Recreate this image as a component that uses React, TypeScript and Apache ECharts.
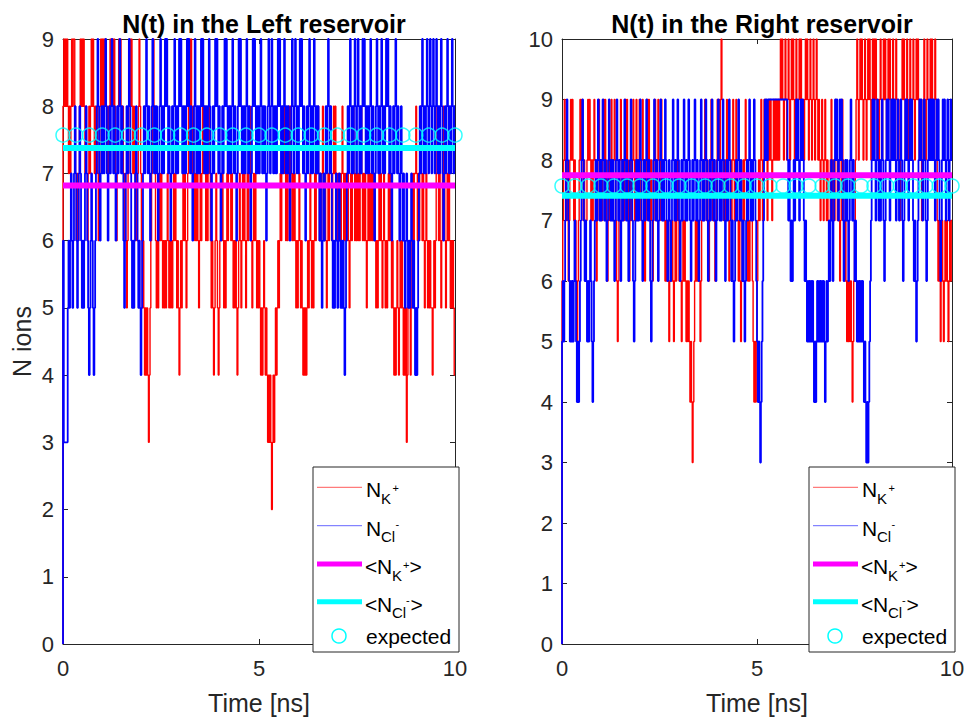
import React, { useEffect, useRef } from 'react';
import * as echarts from 'echarts';

// sample step (ns)
const DT = 0.02;

// Left reservoir, K+ ions (one row = 0.5 ns)
const LEFT_K = [
  0,8,9,8,9,8,9,8,7,8,7,8,9,8,9,9,8,7,6,7,6,7,8,9,8,
  9,8,9,8,7,8,7,6,7,8,7,8,9,8,9,8,7,8,7,8,7,6,7,8,9,
  8,9,8,9,8,9,8,7,8,7,8,9,8,9,9,8,9,8,7,6,7,8,9,8,9,
  8,7,8,7,6,7,6,5,6,7,8,9,8,9,8,7,8,7,6,7,6,7,8,9,8,
  7,6,5,6,5,4,5,4,5,4,3,4,5,6,7,8,9,8,7,6,5,6,5,6,7,
  6,7,6,5,6,5,6,5,6,7,6,5,6,5,6,5,6,7,6,7,6,5,6,5,4,
  5,6,5,6,7,6,7,6,5,6,7,8,9,8,9,8,7,8,7,6,7,6,7,6,5,
  6,7,6,7,8,7,8,7,6,7,6,7,8,7,6,5,6,5,4,5,6,7,6,5,4,
  5,6,7,6,7,6,5,6,5,6,7,6,7,8,7,6,7,6,5,6,5,6,5,4,5,
  6,7,6,5,6,7,6,7,6,5,6,7,6,7,8,7,6,5,6,7,6,7,6,5,6,
  5,6,5,4,5,4,5,6,5,4,5,4,3,4,3,4,3,2,3,4,3,4,5,4,5,
  6,5,6,7,6,7,8,7,8,7,6,7,6,7,8,7,8,7,6,7,6,7,6,5,6,
  5,6,7,6,5,6,5,4,5,4,5,4,5,6,5,6,7,6,5,6,5,6,7,6,7,
  7,8,7,6,7,6,7,8,7,6,7,6,5,6,7,6,7,8,7,6,7,8,7,8,7,
  7,6,7,6,7,6,7,8,7,6,7,6,7,6,7,6,5,6,7,6,7,8,7,6,7,
  6,7,6,7,6,7,8,7,6,7,6,7,6,5,6,7,6,7,6,7,6,7,6,7,6,
  5,6,5,6,7,6,7,6,5,6,7,6,5,6,5,6,7,6,7,6,5,6,5,4,5,
  4,5,6,5,4,5,6,5,6,5,4,5,4,5,3,4,5,6,5,4,5,6,7,6,7,
  7,8,7,6,7,6,7,8,7,6,7,6,5,6,7,6,5,6,5,6,5,5,4,5,6,
  5,6,7,8,7,6,7,6,5,6,7,8,7,6,5,6,7,6,7,6,5,6,5,6,5,4,
];

// Left reservoir, Cl- ions
const LEFT_CL = [
  0,6,3,3,3,3,3,5,6,5,6,7,6,5,6,7,8,7,6,5,6,7,8,7,6,
  5,6,5,6,7,8,7,6,5,4,5,6,7,6,5,4,5,6,7,8,9,8,7,6,7,
  8,7,8,7,8,9,8,7,6,7,8,7,8,9,8,7,8,7,6,7,8,7,8,9,8,
  7,8,7,6,5,6,7,8,7,8,9,8,7,6,5,6,5,6,7,8,7,6,5,6,5,
  4,5,6,7,8,7,8,9,8,7,8,7,6,7,8,9,8,7,8,7,8,7,6,7,8,
  9,8,7,8,7,8,9,8,9,8,7,8,7,6,7,8,7,8,9,8,7,8,7,8,9,
  8,9,8,7,8,7,8,7,8,9,8,9,8,7,8,7,6,7,8,9,8,7,8,7,8,
  7,8,9,8,9,8,7,8,7,8,7,8,9,8,7,6,7,8,7,8,9,8,9,8,7,
  8,7,6,7,8,7,8,9,8,9,8,7,8,7,8,7,8,9,8,7,8,7,6,7,8,
  9,8,9,8,7,8,7,8,7,8,9,8,7,8,7,6,7,8,9,8,9,8,7,8,7,
  8,7,8,9,8,7,8,7,8,7,6,7,8,9,8,7,8,9,8,7,8,7,8,7,8,
  9,8,9,8,7,8,7,8,9,8,7,8,7,8,7,6,7,8,9,8,7,8,9,8,7,
  8,7,8,9,8,9,8,7,8,7,6,7,8,7,8,9,8,7,8,7,8,9,8,7,8,
  7,8,7,6,7,6,5,6,7,6,7,8,7,8,9,8,7,8,7,6,5,6,5,6,7,
  6,5,6,7,6,5,6,5,6,5,4,5,6,7,8,7,8,9,8,7,8,7,8,9,8,
  7,8,9,8,7,8,7,8,9,8,9,8,7,8,7,8,7,8,9,8,7,8,7,6,7,
  8,9,8,7,8,7,8,9,8,7,8,7,8,9,8,9,8,7,8,7,6,7,8,7,8,
  9,8,7,8,7,6,7,8,7,6,7,6,5,6,7,6,5,6,5,6,7,6,5,6,5,
  4,5,4,5,6,7,8,7,8,9,8,7,8,7,8,9,8,7,8,9,8,7,8,9,8,
  7,8,9,8,7,8,7,8,9,8,7,6,7,8,7,8,9,8,7,8,7,8,9,8,7,8,
];

// Right reservoir, K+ ions
const RIGHT_K = [
  0,6,7,8,9,8,7,8,7,6,7,8,9,8,9,8,7,8,7,6,5,6,7,8,9,
  8,9,8,7,8,7,6,7,8,9,8,9,8,7,8,7,8,9,8,7,6,7,8,9,8,
  7,8,7,8,9,8,9,8,7,6,7,8,7,8,9,8,7,8,9,8,7,6,5,6,7,
  8,9,8,7,8,7,8,9,8,9,8,7,6,7,8,7,8,9,8,7,8,9,8,7,8,
  9,8,7,8,9,8,7,6,7,8,9,8,9,8,7,8,7,6,7,8,9,8,7,8,9,
  8,7,8,9,8,7,8,7,6,7,6,7,6,5,6,7,6,7,6,5,6,7,6,7,8,
  7,6,7,6,5,6,7,6,7,6,5,6,5,6,5,4,5,4,3,4,5,6,7,6,7,
  6,7,6,5,6,7,8,7,8,9,8,7,8,7,6,7,8,9,8,7,8,7,6,7,8,
  9,8,9,8,9,10,9,8,7,8,7,8,9,8,7,6,7,8,7,8,9,8,7,8,9,
  8,7,6,7,6,5,6,7,8,7,8,9,8,7,6,7,6,7,8,7,6,5,4,5,4,
  5,6,7,8,7,8,9,8,7,8,9,8,9,8,7,8,9,8,9,8,7,8,9,8,9,
  8,9,8,9,8,9,10,9,10,9,8,9,10,9,8,9,10,9,8,9,10,9,10,9,8,
  9,10,9,8,9,10,9,10,9,8,9,8,9,10,9,10,9,8,9,10,9,8,9,10,9,
  8,9,10,9,8,9,8,7,8,9,8,7,8,9,8,7,8,7,6,7,8,9,8,7,8,
  7,8,9,8,7,8,7,6,7,8,9,8,7,6,7,6,5,6,5,6,5,6,5,4,5,
  6,7,8,9,10,9,8,9,10,9,10,9,8,9,10,9,8,9,10,9,10,9,8,9,10,
  9,10,9,10,9,8,9,8,9,10,9,8,9,10,9,10,9,8,9,10,9,10,9,8,9,
  10,9,8,9,10,9,8,9,8,7,8,9,10,9,10,9,8,9,10,9,8,9,10,9,8,
  9,10,9,8,9,10,9,10,9,8,9,8,7,8,9,10,9,8,9,10,9,8,9,10,9,
  10,9,8,9,10,9,8,7,6,7,6,5,6,7,6,5,6,7,6,7,6,5,6,7,6,7,
];

// Right reservoir, Cl- ions
const RIGHT_CL = [
  0,5,6,5,6,7,8,9,8,7,6,5,6,5,6,5,6,7,6,5,4,5,4,5,6,
  7,8,9,8,7,6,7,6,5,6,5,6,7,6,5,4,5,6,7,8,7,8,9,8,7,
  8,7,8,9,8,7,8,7,6,7,8,9,8,7,8,7,8,7,6,7,8,9,8,7,8,
  7,6,7,8,7,8,9,8,7,8,7,6,7,8,9,8,7,6,5,6,7,8,7,8,7,
  8,9,8,7,6,7,8,7,8,9,8,7,8,7,6,5,6,7,8,9,8,7,8,7,6,
  7,8,9,8,7,8,7,8,9,8,7,6,7,8,7,6,7,8,9,8,7,8,7,8,9,
  8,7,6,7,8,7,8,9,8,7,8,7,8,9,8,7,6,7,8,7,8,9,8,7,8,
  7,6,7,8,9,8,7,8,7,8,9,8,7,6,7,8,7,8,9,8,7,8,7,6,7,
  8,9,8,7,8,7,8,9,8,7,6,7,8,7,8,9,8,7,6,7,6,5,6,7,8,
  7,8,9,8,7,8,7,6,7,6,5,6,7,8,7,8,9,8,7,8,7,8,9,8,7,
  6,5,4,5,4,3,4,5,6,7,8,9,8,9,8,9,9,9,9,9,9,9,9,9,9,
  9,9,9,9,9,9,9,9,9,9,9,9,9,9,9,8,7,8,7,6,7,6,7,8,7,
  8,9,8,9,8,7,8,9,8,9,8,7,6,7,6,5,6,5,6,5,6,5,6,5,4,
  5,4,5,6,5,6,5,6,5,6,5,6,5,4,5,6,5,6,7,6,7,8,7,6,7,
  8,9,8,9,8,7,8,9,8,9,8,7,6,7,8,7,8,7,6,7,8,9,8,7,8,
  7,6,7,6,5,6,5,6,5,6,5,6,5,4,5,4,3,4,3,4,5,6,7,8,9,
  8,9,8,7,8,9,8,7,8,7,8,9,8,7,6,7,8,9,8,9,8,7,8,9,8,
  9,8,9,8,7,8,9,8,7,8,9,8,7,6,7,8,9,8,9,8,7,8,9,8,9,
  8,7,6,7,6,5,6,7,8,9,8,9,8,7,8,9,8,7,6,7,8,9,8,9,8,
  9,8,9,8,7,8,9,8,9,8,7,6,7,8,9,8,9,8,7,8,9,8,7,8,9,8,
];

const EXPECTED_T = [
  0, 0.33, 0.67, 1, 1.33, 1.67, 2, 2.33, 2.67, 3, 3.33, 3.67, 4, 4.33, 4.67, 5,
  5.33, 5.67, 6, 6.33, 6.67, 7, 7.33, 7.67, 8, 8.33, 8.67, 9, 9.33, 9.67, 10,
];
const EXPECTED_N = 7.57;

const LEFT_MEAN_K = 6.82;
const LEFT_MEAN_CL = 7.38;
const RIGHT_MEAN_K = 7.75;
const RIGHT_MEAN_CL = 7.41;

const TITLES = ['N(t) in the Left reservoir', 'N(t) in the Right reservoir'];
const X_NAME = 'Time [ns]';
const Y_NAME = 'N ions';
const X_MIN = 0;
const X_MAX = 10;
const X_INTERVAL = 5;
const Y_MAX = [9, 10];

const AXIS_COLOR = '#262626';
const FONT = '"Liberation Sans", Arial, Helvetica, sans-serif';

const GRIDS = [
  { left: 63, top: 39, width: 392, height: 605 },
  { left: 562, top: 39, width: 390, height: 605 },
];

function toPairs(arr: number[]) {
  return arr.map((v, i) => [+(i * DT).toFixed(3), v]);
}

function makeXAxes(g: number) {
  const common = {
    gridIndex: g,
    type: 'value',
    min: X_MIN,
    max: X_MAX,
    interval: X_INTERVAL,
    splitLine: { show: false },
    axisLine: { show: true, onZero: false, lineStyle: { color: AXIS_COLOR, width: 1 } },
    axisTick: { show: true, inside: true, length: 5, lineStyle: { color: AXIS_COLOR, width: 1 } },
  };
  return [
    {
      ...common,
      position: 'bottom',
      name: X_NAME,
      nameLocation: 'middle',
      nameGap: 46,
      nameTextStyle: { fontSize: 25, color: AXIS_COLOR, fontFamily: FONT },
      axisLabel: { show: true, fontSize: 22, color: AXIS_COLOR, fontFamily: FONT, margin: 13 },
    },
    { ...common, position: 'top', axisLabel: { show: false } },
  ];
}

function makeYAxes(g: number, withName: boolean) {
  const common = {
    gridIndex: g,
    type: 'value',
    min: 0,
    max: Y_MAX[g],
    interval: 1,
    splitLine: { show: false },
    axisLine: { show: true, onZero: false, lineStyle: { color: AXIS_COLOR, width: 1 } },
    axisTick: { show: true, inside: true, length: 5, lineStyle: { color: AXIS_COLOR, width: 1 } },
  };
  return [
    {
      ...common,
      position: 'left',
      name: withName ? Y_NAME : '',
      nameLocation: 'middle',
      nameGap: 29,
      nameTextStyle: { fontSize: 25, color: AXIS_COLOR, fontFamily: FONT },
      axisLabel: { show: true, fontSize: 22, color: AXIS_COLOR, fontFamily: FONT, margin: 9 },
    },
    { ...common, position: 'right', axisLabel: { show: false } },
  ];
}

function makeSeries(g: number, k: number[], cl: number[], meanK: number, meanCl: number) {
  const ax = g * 2;
  const base = { xAxisIndex: ax, yAxisIndex: ax, silent: true, animation: false };
  return [
    {
      ...base, type: 'line', name: 'K', data: toPairs(k), step: 'start',
      symbol: 'none', showSymbol: false, lineStyle: { color: '#ff0000', width: 1.4 }, z: 2,
    },
    {
      ...base, type: 'line', name: 'Cl', data: toPairs(cl), step: 'start',
      symbol: 'none', showSymbol: false, lineStyle: { color: '#0000ff', width: 1.8 }, z: 3,
    },
    {
      ...base, type: 'line', name: 'meanK', data: [[X_MIN, meanK], [X_MAX, meanK]],
      symbol: 'none', lineStyle: { color: '#ff00ff', width: 6 }, z: 4,
    },
    {
      ...base, type: 'line', name: 'meanCl', data: [[X_MIN, meanCl], [X_MAX, meanCl]],
      symbol: 'none', lineStyle: { color: '#00ffff', width: 6 }, z: 5,
    },
    {
      ...base, type: 'scatter', name: 'expected',
      data: EXPECTED_T.map((t) => [t, EXPECTED_N]),
      symbol: 'circle', symbolSize: 14, clip: false,
      itemStyle: { color: 'rgba(0,0,0,0)', borderColor: '#00ffff', borderWidth: 1.5 }, z: 6,
    },
  ];
}

function txt(x: number, y: number, text: string, size: number) {
  return {
    type: 'text', x, y, z: 101, silent: true,
    style: {
      text, fill: '#000000', font: `${size}px ${FONT}`,
      align: 'left', verticalAlign: 'middle', textAlign: 'left', textVerticalAlign: 'middle',
    },
  };
}

function legend(bx: number, by: number) {
  const rows = [20.3, 58.7, 97, 134.7, 169];
  const els: any[] = [
    {
      type: 'rect', z: 100, silent: true,
      shape: { x: bx, y: by, width: 146, height: 185 },
      style: { fill: '#ffffff', stroke: AXIS_COLOR, lineWidth: 1 },
    },
  ];
  const lineDefs = [
    { color: '#ff0000', w: 1, op: 0.65 },
    { color: '#0000ff', w: 1, op: 0.6 },
    { color: '#ff00ff', w: 5, op: 1 },
    { color: '#00ffff', w: 5, op: 1 },
  ];
  lineDefs.forEach((d, i) => {
    els.push({
      type: 'line', z: 101, silent: true,
      shape: { x1: bx + 4, y1: by + rows[i], x2: bx + 49, y2: by + rows[i] },
      style: { stroke: d.color, lineWidth: d.w, opacity: d.op },
    });
  });
  const r1 = by + rows[0];
  const r2 = by + rows[1];
  const r3 = by + rows[2];
  const r4 = by + rows[3];
  const r5 = by + rows[4];
  // N_{K+}
  els.push(txt(bx + 53, r1 + 2.5, 'N', 21));
  els.push(txt(bx + 68, r1 + 11, 'K', 15));
  els.push(txt(bx + 79.5, r1 + 0.5, '+', 11));
  // N_{Cl-}
  els.push(txt(bx + 53, r2 + 2.5, 'N', 21));
  els.push(txt(bx + 68, r2 + 11, 'Cl', 15));
  els.push(txt(bx + 82.5, r2 - 1.5, '-', 11));
  // <N_{K+}>
  els.push(txt(bx + 52, r3 + 2.5, '<', 21));
  els.push(txt(bx + 64, r3 + 2.5, 'N', 21));
  els.push(txt(bx + 79, r3 + 11, 'K', 15));
  els.push(txt(bx + 90, r3 + 0.5, '+', 11));
  els.push(txt(bx + 96.5, r3 + 2.5, '>', 21));
  // <N_{Cl-}>
  els.push(txt(bx + 52, r4 + 2.5, '<', 21));
  els.push(txt(bx + 64, r4 + 2.5, 'N', 21));
  els.push(txt(bx + 79, r4 + 11, 'Cl', 15));
  els.push(txt(bx + 93, r4 - 1.5, '-', 11));
  els.push(txt(bx + 97.5, r4 + 2.5, '>', 21));
  // expected
  els.push({
    type: 'circle', z: 101, silent: true,
    shape: { cx: bx + 26, cy: r5, r: 7 },
    style: { fill: 'none', stroke: '#00ffff', lineWidth: 1.5 },
  });
  els.push(txt(bx + 53, r5, 'expected', 21));
  return els;
}

export default function App() {
  const ref = useRef<HTMLDivElement>(null);

  useEffect(() => {
    if (!ref.current) return;
    const chart = echarts.init(ref.current, null, { renderer: 'svg' });
    const option: any = {
      animation: false,
      backgroundColor: '#ffffff',
      title: [
        {
          text: TITLES[0], left: 259, top: 6, textAlign: 'center',
          textStyle: { fontSize: 25, fontWeight: 'bold', color: '#000000', fontFamily: FONT },
        },
        {
          text: TITLES[1], left: 757, top: 6, textAlign: 'center',
          textStyle: { fontSize: 25, fontWeight: 'bold', color: '#000000', fontFamily: FONT },
        },
      ],
      grid: GRIDS.map((g) => ({ ...g, containLabel: false, outerBoundsMode: 'none' })),
      xAxis: [...makeXAxes(0), ...makeXAxes(1)],
      yAxis: [...makeYAxes(0, true), ...makeYAxes(1, false)],
      series: [
        ...makeSeries(0, LEFT_K, LEFT_CL, LEFT_MEAN_K, LEFT_MEAN_CL),
        ...makeSeries(1, RIGHT_K, RIGHT_CL, RIGHT_MEAN_K, RIGHT_MEAN_CL),
      ],
      graphic: [...legend(313, 467), ...legend(809, 467)],
    };
    chart.setOption(option);
    return () => chart.dispose();
  }, []);

  return (
    <div
      ref={ref}
      style={{ position: 'fixed', left: 0, top: 0, width: 971, height: 720, background: '#fff' }}
    />
  );
}
